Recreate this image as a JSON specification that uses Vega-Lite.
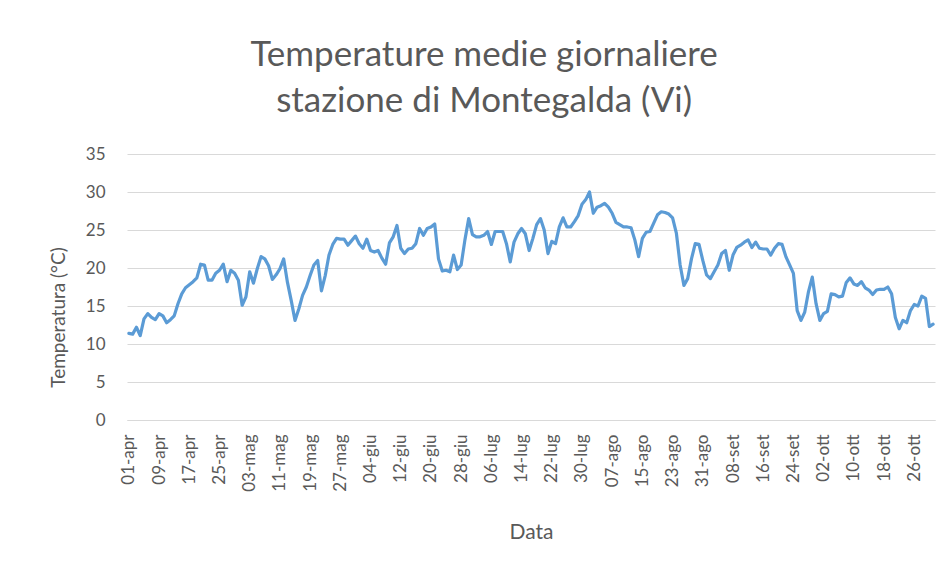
{
  "$schema": "https://vega.github.io/schema/vega-lite/v6.json",
  "width": 808,
  "height": 266,
  "autosize": "none",
  "padding": {"left": 127, "top": 154, "right": 14, "bottom": 154},
  "background": "white",
  "title": {
    "text": ["Temperature medie giornaliere", "stazione di Montegalda (Vi)"],
    "font": "Lato",
    "fontSize": 35,
    "fontWeight": "normal",
    "color": "#595959",
    "anchor": "middle",
    "frame": "bounds",
    "lineHeight": 46,
    "offset": 26,
    "dx": -8
  },
  "data": {
    "values": [
      {"data": "2023-04-01", "temp": 11.4}, {"data": "2023-04-02", "temp": 11.3}, {"data": "2023-04-03", "temp": 12.2}, {"data": "2023-04-04", "temp": 11.1}, {"data": "2023-04-05", "temp": 13.3},
      {"data": "2023-04-06", "temp": 14.0}, {"data": "2023-04-07", "temp": 13.5}, {"data": "2023-04-08", "temp": 13.2}, {"data": "2023-04-09", "temp": 14.0}, {"data": "2023-04-10", "temp": 13.7},
      {"data": "2023-04-11", "temp": 12.8}, {"data": "2023-04-12", "temp": 13.2}, {"data": "2023-04-13", "temp": 13.7}, {"data": "2023-04-14", "temp": 15.3}, {"data": "2023-04-15", "temp": 16.6},
      {"data": "2023-04-16", "temp": 17.4}, {"data": "2023-04-17", "temp": 17.8}, {"data": "2023-04-18", "temp": 18.2}, {"data": "2023-04-19", "temp": 18.7}, {"data": "2023-04-20", "temp": 20.5},
      {"data": "2023-04-21", "temp": 20.4}, {"data": "2023-04-22", "temp": 18.4}, {"data": "2023-04-23", "temp": 18.4}, {"data": "2023-04-24", "temp": 19.3}, {"data": "2023-04-25", "temp": 19.7},
      {"data": "2023-04-26", "temp": 20.5}, {"data": "2023-04-27", "temp": 18.2}, {"data": "2023-04-28", "temp": 19.7}, {"data": "2023-04-29", "temp": 19.3}, {"data": "2023-04-30", "temp": 18.4},
      {"data": "2023-05-01", "temp": 15.1}, {"data": "2023-05-02", "temp": 16.2}, {"data": "2023-05-03", "temp": 19.5}, {"data": "2023-05-04", "temp": 18.0}, {"data": "2023-05-05", "temp": 19.9},
      {"data": "2023-05-06", "temp": 21.5}, {"data": "2023-05-07", "temp": 21.2}, {"data": "2023-05-08", "temp": 20.3}, {"data": "2023-05-09", "temp": 18.5}, {"data": "2023-05-10", "temp": 19.1},
      {"data": "2023-05-11", "temp": 19.9}, {"data": "2023-05-12", "temp": 21.2}, {"data": "2023-05-13", "temp": 18.1}, {"data": "2023-05-14", "temp": 15.7}, {"data": "2023-05-15", "temp": 13.1},
      {"data": "2023-05-16", "temp": 14.6}, {"data": "2023-05-17", "temp": 16.4}, {"data": "2023-05-18", "temp": 17.5}, {"data": "2023-05-19", "temp": 19.0}, {"data": "2023-05-20", "temp": 20.4},
      {"data": "2023-05-21", "temp": 21.0}, {"data": "2023-05-22", "temp": 17.0}, {"data": "2023-05-23", "temp": 19.0}, {"data": "2023-05-24", "temp": 21.7}, {"data": "2023-05-25", "temp": 23.1},
      {"data": "2023-05-26", "temp": 23.9}, {"data": "2023-05-27", "temp": 23.8}, {"data": "2023-05-28", "temp": 23.8}, {"data": "2023-05-29", "temp": 23.0}, {"data": "2023-05-30", "temp": 23.6},
      {"data": "2023-05-31", "temp": 24.2},
      {"data": "2023-06-01", "temp": 23.2}, {"data": "2023-06-02", "temp": 22.6}, {"data": "2023-06-03", "temp": 23.8}, {"data": "2023-06-04", "temp": 22.3}, {"data": "2023-06-05", "temp": 22.1},
      {"data": "2023-06-06", "temp": 22.3}, {"data": "2023-06-07", "temp": 21.3}, {"data": "2023-06-08", "temp": 20.5}, {"data": "2023-06-09", "temp": 23.3}, {"data": "2023-06-10", "temp": 24.1},
      {"data": "2023-06-11", "temp": 25.6}, {"data": "2023-06-12", "temp": 22.6}, {"data": "2023-06-13", "temp": 21.9}, {"data": "2023-06-14", "temp": 22.5}, {"data": "2023-06-15", "temp": 22.6},
      {"data": "2023-06-16", "temp": 23.2}, {"data": "2023-06-17", "temp": 25.2}, {"data": "2023-06-18", "temp": 24.3}, {"data": "2023-06-19", "temp": 25.2}, {"data": "2023-06-20", "temp": 25.4},
      {"data": "2023-06-21", "temp": 25.8}, {"data": "2023-06-22", "temp": 21.2}, {"data": "2023-06-23", "temp": 19.6}, {"data": "2023-06-24", "temp": 19.7}, {"data": "2023-06-25", "temp": 19.5},
      {"data": "2023-06-26", "temp": 21.7}, {"data": "2023-06-27", "temp": 19.8}, {"data": "2023-06-28", "temp": 20.4}, {"data": "2023-06-29", "temp": 23.7}, {"data": "2023-06-30", "temp": 26.5},
      {"data": "2023-07-01", "temp": 24.4}, {"data": "2023-07-02", "temp": 24.1}, {"data": "2023-07-03", "temp": 24.1}, {"data": "2023-07-04", "temp": 24.3}, {"data": "2023-07-05", "temp": 24.8},
      {"data": "2023-07-06", "temp": 23.1}, {"data": "2023-07-07", "temp": 24.8}, {"data": "2023-07-08", "temp": 24.8}, {"data": "2023-07-09", "temp": 24.8}, {"data": "2023-07-10", "temp": 23.2},
      {"data": "2023-07-11", "temp": 20.8}, {"data": "2023-07-12", "temp": 23.4}, {"data": "2023-07-13", "temp": 24.5}, {"data": "2023-07-14", "temp": 25.2}, {"data": "2023-07-15", "temp": 24.5},
      {"data": "2023-07-16", "temp": 22.3}, {"data": "2023-07-17", "temp": 23.9}, {"data": "2023-07-18", "temp": 25.7}, {"data": "2023-07-19", "temp": 26.5}, {"data": "2023-07-20", "temp": 25.0},
      {"data": "2023-07-21", "temp": 21.9}, {"data": "2023-07-22", "temp": 23.5}, {"data": "2023-07-23", "temp": 23.2}, {"data": "2023-07-24", "temp": 25.4}, {"data": "2023-07-25", "temp": 26.6},
      {"data": "2023-07-26", "temp": 25.4}, {"data": "2023-07-27", "temp": 25.4}, {"data": "2023-07-28", "temp": 26.1}, {"data": "2023-07-29", "temp": 26.9}, {"data": "2023-07-30", "temp": 28.4},
      {"data": "2023-07-31", "temp": 29.0},
      {"data": "2023-08-01", "temp": 30.0}, {"data": "2023-08-02", "temp": 27.2}, {"data": "2023-08-03", "temp": 28.0}, {"data": "2023-08-04", "temp": 28.2}, {"data": "2023-08-05", "temp": 28.5},
      {"data": "2023-08-06", "temp": 28.0}, {"data": "2023-08-07", "temp": 27.2}, {"data": "2023-08-08", "temp": 26.0}, {"data": "2023-08-09", "temp": 25.7}, {"data": "2023-08-10", "temp": 25.4},
      {"data": "2023-08-11", "temp": 25.4}, {"data": "2023-08-12", "temp": 25.3}, {"data": "2023-08-13", "temp": 23.7}, {"data": "2023-08-14", "temp": 21.5}, {"data": "2023-08-15", "temp": 23.9},
      {"data": "2023-08-16", "temp": 24.7}, {"data": "2023-08-17", "temp": 24.8}, {"data": "2023-08-18", "temp": 25.9}, {"data": "2023-08-19", "temp": 27.0}, {"data": "2023-08-20", "temp": 27.4},
      {"data": "2023-08-21", "temp": 27.3}, {"data": "2023-08-22", "temp": 27.1}, {"data": "2023-08-23", "temp": 26.6}, {"data": "2023-08-24", "temp": 24.6}, {"data": "2023-08-25", "temp": 20.4},
      {"data": "2023-08-26", "temp": 17.7}, {"data": "2023-08-27", "temp": 18.6}, {"data": "2023-08-28", "temp": 21.2}, {"data": "2023-08-29", "temp": 23.2}, {"data": "2023-08-30", "temp": 23.1},
      {"data": "2023-08-31", "temp": 21.0},
      {"data": "2023-09-01", "temp": 19.1}, {"data": "2023-09-02", "temp": 18.6}, {"data": "2023-09-03", "temp": 19.5}, {"data": "2023-09-04", "temp": 20.4}, {"data": "2023-09-05", "temp": 21.9},
      {"data": "2023-09-06", "temp": 22.3}, {"data": "2023-09-07", "temp": 19.7}, {"data": "2023-09-08", "temp": 21.7}, {"data": "2023-09-09", "temp": 22.7}, {"data": "2023-09-10", "temp": 23.0},
      {"data": "2023-09-11", "temp": 23.4}, {"data": "2023-09-12", "temp": 23.7}, {"data": "2023-09-13", "temp": 22.7}, {"data": "2023-09-14", "temp": 23.4}, {"data": "2023-09-15", "temp": 22.6},
      {"data": "2023-09-16", "temp": 22.5}, {"data": "2023-09-17", "temp": 22.5}, {"data": "2023-09-18", "temp": 21.7}, {"data": "2023-09-19", "temp": 22.6}, {"data": "2023-09-20", "temp": 23.2},
      {"data": "2023-09-21", "temp": 23.1}, {"data": "2023-09-22", "temp": 21.5}, {"data": "2023-09-23", "temp": 20.4}, {"data": "2023-09-24", "temp": 19.3}, {"data": "2023-09-25", "temp": 14.4},
      {"data": "2023-09-26", "temp": 13.1}, {"data": "2023-09-27", "temp": 14.2}, {"data": "2023-09-28", "temp": 16.9}, {"data": "2023-09-29", "temp": 18.8}, {"data": "2023-09-30", "temp": 15.3},
      {"data": "2023-10-01", "temp": 13.1}, {"data": "2023-10-02", "temp": 14.0}, {"data": "2023-10-03", "temp": 14.3}, {"data": "2023-10-04", "temp": 16.6}, {"data": "2023-10-05", "temp": 16.5},
      {"data": "2023-10-06", "temp": 16.2}, {"data": "2023-10-07", "temp": 16.3}, {"data": "2023-10-08", "temp": 18.1}, {"data": "2023-10-09", "temp": 18.7}, {"data": "2023-10-10", "temp": 17.9},
      {"data": "2023-10-11", "temp": 17.7}, {"data": "2023-10-12", "temp": 18.2}, {"data": "2023-10-13", "temp": 17.4}, {"data": "2023-10-14", "temp": 17.1}, {"data": "2023-10-15", "temp": 16.5},
      {"data": "2023-10-16", "temp": 17.1}, {"data": "2023-10-17", "temp": 17.2}, {"data": "2023-10-18", "temp": 17.2}, {"data": "2023-10-19", "temp": 17.5}, {"data": "2023-10-20", "temp": 16.6},
      {"data": "2023-10-21", "temp": 13.5}, {"data": "2023-10-22", "temp": 12.0}, {"data": "2023-10-23", "temp": 13.1}, {"data": "2023-10-24", "temp": 12.8}, {"data": "2023-10-25", "temp": 14.4},
      {"data": "2023-10-26", "temp": 15.2}, {"data": "2023-10-27", "temp": 15.0}, {"data": "2023-10-28", "temp": 16.3}, {"data": "2023-10-29", "temp": 16.0}, {"data": "2023-10-30", "temp": 12.3},
      {"data": "2023-10-31", "temp": 12.6}
    ]
  },
  "mark": {"type": "line", "color": "#5B9BD5", "strokeWidth": 3.2, "strokeJoin": "round", "strokeCap": "round"},
  "encoding": {
    "x": {
      "field": "data",
      "type": "temporal",
      "scale": {
        "type": "utc",
        "domain": [
          {"year": 2023, "month": 3, "date": 31, "hours": 12, "utc": true},
          {"year": 2023, "month": 10, "date": 31, "hours": 12, "utc": true}
        ]
      },
      "axis": {
        "title": "Data",
        "values": [
          {"year": 2023, "month": 4, "date": 1, "utc": true},
          {"year": 2023, "month": 4, "date": 9, "utc": true},
          {"year": 2023, "month": 4, "date": 17, "utc": true},
          {"year": 2023, "month": 4, "date": 25, "utc": true},
          {"year": 2023, "month": 5, "date": 3, "utc": true},
          {"year": 2023, "month": 5, "date": 11, "utc": true},
          {"year": 2023, "month": 5, "date": 19, "utc": true},
          {"year": 2023, "month": 5, "date": 27, "utc": true},
          {"year": 2023, "month": 6, "date": 4, "utc": true},
          {"year": 2023, "month": 6, "date": 12, "utc": true},
          {"year": 2023, "month": 6, "date": 20, "utc": true},
          {"year": 2023, "month": 6, "date": 28, "utc": true},
          {"year": 2023, "month": 7, "date": 6, "utc": true},
          {"year": 2023, "month": 7, "date": 14, "utc": true},
          {"year": 2023, "month": 7, "date": 22, "utc": true},
          {"year": 2023, "month": 7, "date": 30, "utc": true},
          {"year": 2023, "month": 8, "date": 7, "utc": true},
          {"year": 2023, "month": 8, "date": 15, "utc": true},
          {"year": 2023, "month": 8, "date": 23, "utc": true},
          {"year": 2023, "month": 8, "date": 31, "utc": true},
          {"year": 2023, "month": 9, "date": 8, "utc": true},
          {"year": 2023, "month": 9, "date": 16, "utc": true},
          {"year": 2023, "month": 9, "date": 24, "utc": true},
          {"year": 2023, "month": 10, "date": 2, "utc": true},
          {"year": 2023, "month": 10, "date": 10, "utc": true},
          {"year": 2023, "month": 10, "date": 18, "utc": true},
          {"year": 2023, "month": 10, "date": 26, "utc": true}
        ],
        "labelExpr": "utcFormat(datum.value, '%d') + '-' + ['gen','feb','mar','apr','mag','giu','lug','ago','set','ott','nov','dic'][utcmonth(datum.value)]",
        "labelAngle": -90,
        "labelPadding": 14,
        "labelFontSize": 17,
        "labelColor": "#595959",
        "labelOverlap": false,
        "labelFlush": false,
        "ticks": false,
        "grid": false,
        "domainColor": "#D9D9D9",
        "domainWidth": 1,
        "titleFontSize": 21,
        "titleFontWeight": "normal",
        "titleColor": "#595959",
        "titlePadding": 30
      }
    },
    "y": {
      "field": "temp",
      "type": "quantitative",
      "scale": {"domain": [0, 35], "nice": false},
      "axis": {
        "title": "Temperatura (°C)",
        "values": [0, 5, 10, 15, 20, 25, 30, 35],
        "grid": true,
        "gridColor": "#D9D9D9",
        "gridWidth": 1,
        "domain": false,
        "ticks": false,
        "labelPadding": 22,
        "labelFontSize": 17,
        "labelColor": "#595959",
        "titleFontSize": 19,
        "titleFontWeight": "normal",
        "titleColor": "#595959",
        "titlePadding": 17,
        "titleY": 163
      }
    }
  },
  "config": {
    "view": {"stroke": null},
    "font": "Lato"
  }
}
